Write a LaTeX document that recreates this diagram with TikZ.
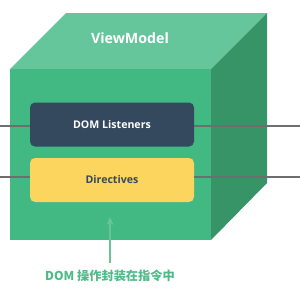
\documentclass[tikz,border=0pt]{standalone}
\usepackage{fontspec}
\setmainfont{Open Sans}
\newfontfamily\cjk{Noto Sans CJK SC}
\usetikzlibrary{arrows.meta, positioning}
\definecolor{vmfront}{HTML}{42B883}
\definecolor{vmtop}{HTML}{66C69B}
\definecolor{vmside}{HTML}{379466}
\definecolor{listenbg}{HTML}{34495E}
\definecolor{directbg}{HTML}{FCD55F}
\definecolor{wire}{HTML}{6E6E6E}
\definecolor{hint}{HTML}{4DBA87}

\tikzset{
  layerbox/.style={rounded corners=5pt, minimum width=164pt, minimum height=44pt,
                   font=\bfseries\fontsize{10.6}{12}\selectfont},
  wireline/.style={wire, line width=1.1pt}
}

\begin{document}
\begin{tikzpicture}[x=1pt, y=-1pt]
\useasboundingbox (0,0) rectangle (300,287);

% Cube faces
\fill[vmtop] (10,69) -- (66,13) -- (267,13) -- (211,69) -- cycle;
\fill[vmside] (211,69) -- (267,13) -- (267,183) -- (211,240) -- cycle;
\fill[vmfront] (10,69) rectangle (211,240);

\node[white, font=\bfseries\fontsize{14.2}{16}\selectfont] (vm) at (130,38) {ViewModel};

% Wires through the layers
\coordinate (lin) at (0,126);
\coordinate (lout) at (300,126);
\coordinate (din) at (0,177);
\coordinate (dout) at (300,177);

\node[layerbox, fill=listenbg, text=white] (listeners) at (112,124.5) {DOM Listeners};
\node[layerbox, fill=directbg, text=listenbg] (directives) at (112,180) {Directives};

\draw[wireline] (lin) -- (listeners.west |- lin);
\draw[wireline] (listeners.east |- lout) -- (lout);
\draw[wireline] (din) -- (directives.west |- din);
\draw[wireline] (directives.east |- dout) -- (dout);

% Note
\node[hint, font=\cjk\bfseries\fontsize{12.2}{14}\selectfont] (note) at (110,276) {DOM 操作封装在指令中};
\coordinate (tipend) at (110,217);
\draw[hint!85, line width=1.4pt, -{Stealth[length=8pt, width=7pt]}] (note.north |- 0,263) -- (tipend);
\end{tikzpicture}
\end{document}
